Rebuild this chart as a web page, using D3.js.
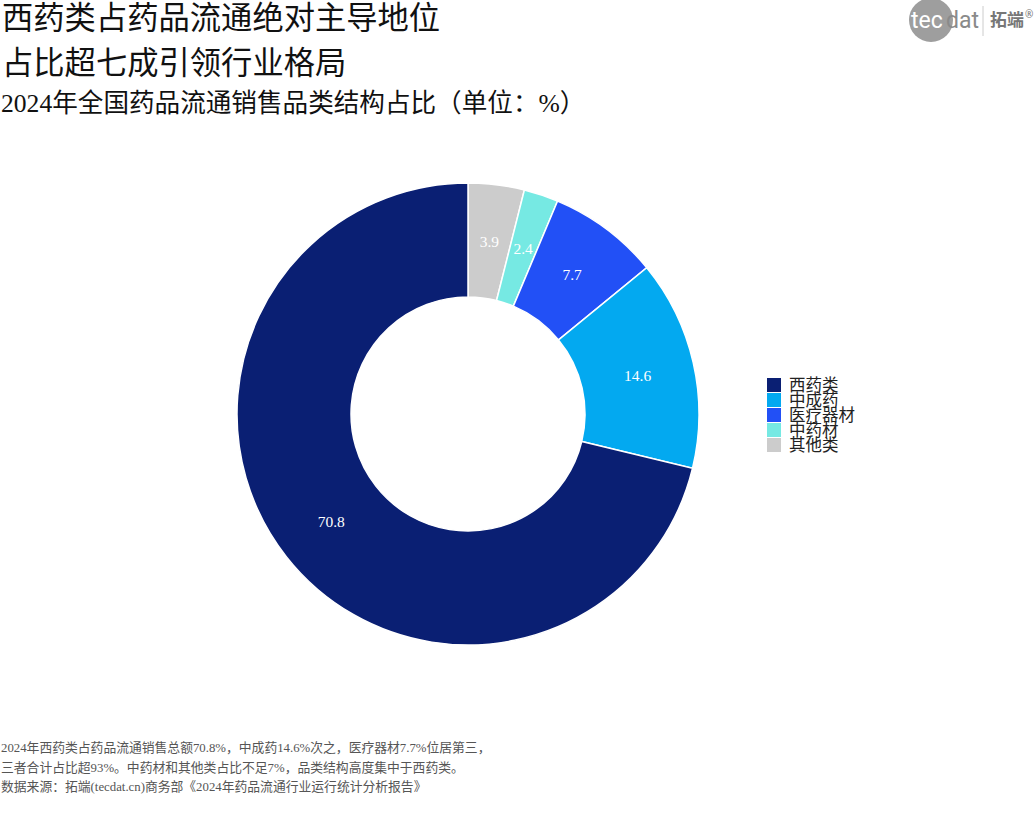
<!DOCTYPE html>
<html>
<head>
<meta charset="utf-8">
<script src="https://cdn.jsdelivr.net/npm/d3@7"></script>
<style>
  body { margin: 0; background: #fff; }
  svg text { font-family: "Liberation Serif", "DejaVu Serif", "Noto Sans CJK SC", serif; }
</style>
</head>
<body>
<svg id="chart"></svg>
<script>
// categories in legend order
const categories = ['西药类', '中成药', '医疗器材', '中药材', '其他类'];
const shares = [70.8, 14.6, 7.7, 2.4, 3.9];
const colors = ['#0a1f73', '#03a9f0', '#2250f6', '#76e9e3', '#cccccc'];

const titleLines = ['西药类占药品流通绝对主导地位', '占比超七成引领行业格局'];
const subtitle = '2024年全国药品流通销售品类结构占比（单位：%）';
const notes = [
  '2024年西药类占药品流通销售总额70.8%，中成药14.6%次之，医疗器材7.7%位居第三，',
  '三者合计占比超93%。中药材和其他类占比不足7%，品类结构高度集中于西药类。',
  '数据来源：拓端(tecdat.cn)商务部《2024年药品流通行业运行统计分析报告》'
];

const width = 1036, height = 829;
const svg = d3.select('#chart').attr('width', width).attr('height', height);

svg.selectAll('.title')
  .data(titleLines)
  .enter()
  .append('text')
  .classed('title', true)
  .attr('x', 2)
  .attr('y', (d, i) => 29 + i * 45)
  .attr('font-size', 31.3)
  .attr('fill', '#111')
  .text(d => d);

svg.append('text')
  .attr('x', 1)
  .attr('y', 112)
  .attr('font-size', 25.6)
  .attr('fill', '#111')
  .text(subtitle);

// donut: slices drawn clockwise from top in reverse legend order
let data = categories.map((c, i) => ({ cat: c, value: shares[i], color: colors[i] })).reverse();
let cx = 468, cy = 414, outerR = 231, innerR = 117;
let pie = d3.pie().sort(null).value(d => d.value);
let arc = d3.arc().innerRadius(innerR).outerRadius(outerR);
let labelArc = d3.arc().innerRadius((innerR + outerR) / 2).outerRadius((innerR + outerR) / 2);

let g = svg.append('g').attr('transform', 'translate(' + cx + ',' + cy + ')');
let arcs = pie(data);

g.selectAll('.slice')
  .data(arcs)
  .enter()
  .append('path')
  .classed('slice', true)
  .attr('d', arc)
  .attr('fill', d => d.data.color)
  .attr('stroke', '#fff')
  .attr('stroke-width', 1.5);

g.selectAll('.lbl')
  .data(arcs)
  .enter()
  .append('text')
  .classed('lbl', true)
  .attr('transform', d => 'translate(' + labelArc.centroid(d) + ')')
  .attr('text-anchor', 'middle')
  .attr('dy', '0.35em')
  .attr('font-size', 15.5)
  .attr('fill', '#fff')
  .text(d => d3.format('.1f')(d.data.value));

// legend
let legend = svg.append('g').attr('transform', 'translate(767,378)');
let rows = legend.selectAll('.row')
  .data(categories)
  .enter()
  .append('g')
  .classed('row', true)
  .attr('transform', (d, i) => 'translate(0,' + i * 15 + ')');
rows.append('rect')
  .attr('width', 14)
  .attr('height', 14)
  .attr('fill', (d, i) => colors[i]);
rows.append('text')
  .attr('x', 22)
  .attr('y', 13)
  .attr('font-size', 16.5)
  .attr('fill', '#222')
  .text(d => d);

// notes
svg.selectAll('.note')
  .data(notes)
  .enter()
  .append('text')
  .classed('note', true)
  .attr('x', 1)
  .attr('y', (d, i) => 752 + i * 19.5)
  .attr('font-size', 12.8)
  .attr('fill', '#555')
  .text(d => d);

// logo
let logo = svg.append('g');
logo.append('circle').attr('cx', 931).attr('cy', 20).attr('r', 22).attr('fill', '#9e9e9e');
logo.append('text')
  .attr('x', 911).attr('y', 28)
  .style('font-family', 'Roboto, "Noto Sans", sans-serif')
  .attr('font-size', 23)
  .attr('fill', '#fff')
  .text('tec');
logo.append('text')
  .attr('x', 946).attr('y', 28)
  .style('font-family', 'Roboto, "Noto Sans", sans-serif')
  .attr('font-size', 23)
  .attr('fill', '#8a8a8a')
  .text('dat');
logo.append('line')
  .attr('x1', 983).attr('x2', 983).attr('y1', 6).attr('y2', 36)
  .attr('stroke', '#ccc').attr('stroke-width', 1);
logo.append('text')
  .attr('x', 990).attr('y', 26)
  .style('font-family', '"Noto Sans CJK SC", sans-serif')
  .style('font-weight', 'bold')
  .attr('font-size', 17)
  .attr('fill', '#777')
  .text('拓端');
logo.append('text')
  .attr('x', 1025).attr('y', 18)
  .style('font-family', '"Noto Sans", sans-serif')
  .attr('font-size', 10)
  .attr('fill', '#777')
  .text('®');
</script>
</body>
</html>
